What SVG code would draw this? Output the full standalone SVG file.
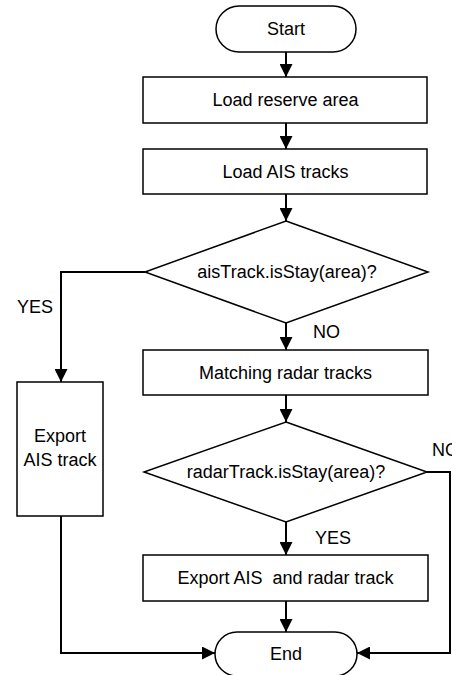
<svg xmlns="http://www.w3.org/2000/svg" width="452" height="675" viewBox="0 0 452 675">
<style>
.s{fill:#fff;stroke:#000;stroke-width:1.5}
.c{fill:none;stroke:#000;stroke-width:2}
text{font-family:"Liberation Sans",Arial,sans-serif;font-size:18px;fill:#000}
.m{text-anchor:middle}
</style>
<defs>
<marker id="a" markerUnits="userSpaceOnUse" markerWidth="13" markerHeight="13" refX="13" refY="6.5" orient="auto">
<path d="M0,0 L13,6.5 L0,13 z" fill="#000"/>
</marker>
</defs>
<rect width="452" height="675" fill="#fff"/>
<g id="connectors">
<line class="c" x1="286" y1="52" x2="286" y2="77" marker-end="url(#a)"/>
<line class="c" x1="286" y1="123" x2="286" y2="149" marker-end="url(#a)"/>
<line class="c" x1="286" y1="194" x2="286" y2="221" marker-end="url(#a)"/>
<polyline class="c" points="145,272 61,272 61,382" marker-end="url(#a)"/>
<line class="c" x1="286" y1="323" x2="286" y2="350" marker-end="url(#a)"/>
<line class="c" x1="286" y1="395" x2="286" y2="422" marker-end="url(#a)"/>
<polyline class="c" points="427,472 450,472 450,653 357,653" marker-end="url(#a)"/>
<line class="c" x1="286" y1="522" x2="286" y2="555" marker-end="url(#a)"/>
<line class="c" x1="286" y1="601" x2="286" y2="632" marker-end="url(#a)"/>
<polyline class="c" points="61,516 61,653 215,653" marker-end="url(#a)"/>
<text x="17" y="313">YES</text>
<text x="313" y="338">NO</text>
<text x="432" y="456">NO</text>
<text x="315" y="544">YES</text>
</g>
<g id="start">
<rect class="s" x="216" y="6" width="140" height="46" rx="23"/>
<text class="m" x="286" y="35">Start</text>
</g>
<g id="load-area">
<rect class="s" x="143" y="77" width="284" height="46"/>
<text class="m" x="285.5" y="106">Load reserve area</text>
</g>
<g id="load-ais">
<rect class="s" x="143" y="149" width="284" height="45"/>
<text class="m" x="285.5" y="178">Load AIS tracks</text>
</g>
<g id="ais-decision">
<polygon class="s" points="286,221 428,272 286,323 145,272"/>
<text class="m" x="287" y="278">aisTrack.isStay(area)?</text>
</g>
<g id="export-ais">
<rect class="s" x="17" y="382" width="86" height="134"/>
<text class="m" x="60" y="442">Export</text>
<text class="m" x="60" y="466">AIS track</text>
</g>
<g id="matching">
<rect class="s" x="143" y="350" width="285" height="45"/>
<text class="m" x="285.5" y="379">Matching radar tracks</text>
</g>
<g id="radar-decision">
<polygon class="s" points="286,422 427,472 286,522 144,472"/>
<text class="m" x="286" y="478">radarTrack.isStay(area)?</text>
</g>
<g id="export-both">
<rect class="s" x="143" y="555" width="285" height="46"/>
<text class="m" x="285.5" y="584" xml:space="preserve">Export AIS  and radar track</text>
</g>
<g id="end">
<rect class="s" x="215" y="632" width="142" height="44" rx="22"/>
<text class="m" x="286" y="660">End</text>
</g>
</svg>
